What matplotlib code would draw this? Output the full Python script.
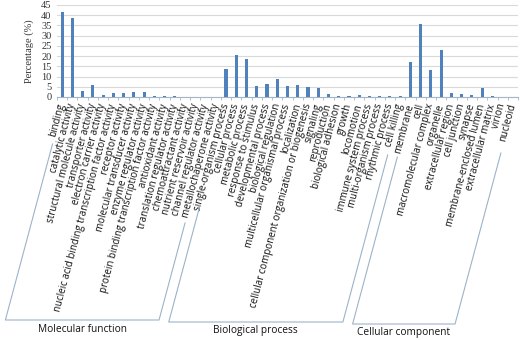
import numpy as np
import matplotlib
matplotlib.use("Agg")
import matplotlib.pyplot as plt
from matplotlib.lines import Line2D
from matplotlib.font_manager import FontProperties

mf_labels = ["binding", "catalytic activity", "structural molecule activity",
             "transporter activity", "electron carrier activity",
             "nucleic acid binding transcription factor activity",
             "receptor activity", "molecular transducer activity",
             "enzyme regulator activity",
             "protein binding transcription factor activity",
             "antioxidant activity", "translation regulator activity",
             "chemoattractant activity", "nutrient reservoir activity",
             "channel regulator activity", "metallochaperone activity"]
mf_values = [41.8, 38.6, 3.0, 5.9, 1.0, 1.8, 1.8, 2.3, 2.3, 0.7,
             0.3, 0.3, 0.2, 0.2, 0.2, 0.2]

bp_labels = ["single-organism process", "cellular process", "metabolic process",
             "response to stimulus", "developmental process",
             "biological regulation", "multicellular organismal process",
             "localization", "cellular component organization or biogenesis",
             "signaling", "reproduction", "biological adhesion", "growth",
             "locomotion", "immune system process", "multi-organism process",
             "rhythmic process", "cell killing"]
bp_values = [13.8, 20.6, 18.5, 5.2, 6.5, 8.7, 5.5, 5.9, 4.8, 4.4,
             1.6, 0.6, 0.7, 0.9, 0.6, 0.4, 0.3, 0.3]

cc_labels = ["membrane", "cell", "macromolecular complex", "organelle",
             "extracellular region", "cell junction", "synapse",
             "membrane-enclosed lumen", "extracellular matrix", "virion",
             "nucleoid"]
cc_values = [17.2, 35.7, 13.3, 23.0, 2.2, 1.4, 1.0, 4.3, 0.4, 0.2, 0.2]

group_names = ["Molecular function", "Biological process", "Cellular component"]
yticks = [0, 5, 10, 15, 20, 25, 30, 35, 40, 45]

labels = mf_labels + bp_labels + cc_labels
values = mf_values + bp_values + cc_values
groups = [(0, len(mf_labels) - 1),
          (len(mf_labels), len(mf_labels) + len(bp_labels) - 1),
          (len(mf_labels) + len(bp_labels), len(labels) - 1)]

W, H = 520, 340
DPI = 100
fig = plt.figure(figsize=(W / DPI, H / DPI), dpi=DPI)
fig.patch.set_facecolor("white")

def px(x0, y0, x1, y1):
    return [x0 / W, 1 - y1 / H, (x1 - x0) / W, (y1 - y0) / H]

lab_font = FontProperties(family="Open Sans", style="normal", weight="normal", size=7.0)
grp_font = FontProperties(family="Open Sans", style="normal", weight="normal", size=7.3)

ax = fig.add_axes(px(57, 5, 518, 97))
x = np.arange(len(labels))
ax.bar(x, values, width=0.3, color="#4F81BD", zorder=3)
ax.set_xlim(-0.5, len(labels) - 0.5)
ax.set_ylim(0, 45)
ax.set_yticks(yticks)
ax.yaxis.grid(True, color="#D9D9D9", linewidth=0.8, zorder=0)
ax.set_axisbelow(True)
for s in ["top", "right", "left"]:
    ax.spines[s].set_visible(False)
ax.spines["bottom"].set_color("#A6B5C6")
ax.spines["bottom"].set_linewidth(0.8)
ax.tick_params(axis="y", length=0, pad=4)
for t in ax.get_yticklabels():
    t.set_fontfamily("Liberation Serif")
    t.set_fontsize(7.5)
    t.set_color("#333333")
ax.set_ylabel("Percentage (%)", fontfamily="Liberation Serif", fontsize=7.5,
              color="#333333", labelpad=5)

ax.set_xticks(x)
ax.set_xticklabels(labels, rotation=75, ha="right", va="center",
                   rotation_mode="anchor", fontproperties=lab_font,
                   color="#111111")
ax.tick_params(axis="x", length=0, pad=5)
ax.set_xticks(np.arange(-0.5, len(labels), 1), minor=True)
ax.tick_params(axis="x", which="minor", length=2.5, color="#A6B5C6")

# group brackets (drawn in pixel layout, slanted along the label direction)
ang = np.deg2rad(75)
slope = np.cos(ang) / np.sin(ang)  # dx per dy
axis_y = 97
line_tops = [(144, 223), (205, 155), (157, 153)]
bottoms = [320, 322, 324]
label_y = [329, 330, 333]
col = "#9DB3C8"

def tick_px(i):
    return ax.transData.transform((i, 0))[0]

for (i0, i1), (t0, t1), yb, name, ly in zip(groups, line_tops, bottoms, group_names, label_y):
    xa = tick_px(i0) + 3
    xb = tick_px(i1) + 3
    xs = [xa - (t0 - axis_y) * slope, xa - (yb - axis_y) * slope,
          xb - (yb - axis_y) * slope, xb - (t1 - axis_y) * slope]
    ys = [t0, yb, yb, t1]
    fig.add_artist(Line2D([v / W for v in xs], [1 - v / H for v in ys],
                          color=col, linewidth=0.8))
    cx = (xs[1] + xs[2]) / 2
    fig.text(cx / W, 1 - ly / H, name, ha="center", va="center",
             fontproperties=grp_font, color="#111111")

fig.savefig("out.png", dpi=DPI, facecolor="white")
